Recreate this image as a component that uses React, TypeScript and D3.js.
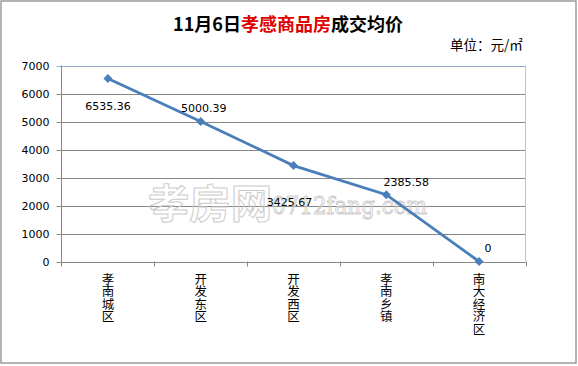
import React from "react";
import * as d3 from "d3";

const categories = ["孝南城区", "开发东区", "开发西区", "孝南乡镇", "南大经济区"];
const values = [6535.36, 5000.39, 3425.67, 2385.58, 0];
const labels = ["6535.36", "5000.39", "3425.67", "2385.58", "0"];
const yTicks = [0, 1000, 2000, 3000, 4000, 5000, 6000, 7000];
const labelOffsets: [number, number][] = [
  [0, 27],
  [3, -13],
  [-4, 36],
  [20, -13],
  [9, -14],
];

const W = 578;
const H = 366;
const LEFT = 61.5;
const RIGHT = 525.5;
const TOP = 65.5;
const BOTTOM = 261.5;
const FONT = "'Noto Sans CJK SC', 'DejaVu Sans', sans-serif";
const NUMFONT = "'DejaVu Sans', 'Liberation Sans', sans-serif";

export default function App() {
  const x = d3.scaleBand<string>().domain(categories).range([LEFT, RIGHT]);
  const y = d3.scaleLinear().domain([0, 7000]).range([BOTTOM, TOP]);
  const cx = (c: string) => (x(c) as number) + x.bandwidth() / 2;
  const line = d3
    .line<number>()
    .x((_, i) => cx(categories[i]))
    .y((d) => y(d));
  const marker = d3.symbol(d3.symbolSquare, 40)() as string;

  return (
    <svg
      width={W}
      height={H}
      style={{ position: "absolute", left: 0, top: 0, background: "#fff" }}
    >
      <rect x={1} y={1} width={575} height={362} fill="#fff" stroke="#8c8c8c" strokeWidth={1.3} />
      <text x={288} y={31} textAnchor="middle" fontFamily={FONT} fontSize={18} fontWeight="bold">
        <tspan fill="#000">11月6日</tspan>
        <tspan fill="#e00000">孝感商品房</tspan>
        <tspan fill="#000">成交均价</tspan>
      </text>
      <text x={450} y={50} fontFamily={FONT} fontSize={13.5} fill="#000">
        单位：元/㎡
      </text>

      {yTicks.map((t) => (
        <g key={t}>
          <line
            x1={LEFT - 5}
            x2={RIGHT}
            y1={Math.round(y(t)) + 0.5}
            y2={Math.round(y(t)) + 0.5}
            stroke={t === 7000 ? "#94acc8" : "#868686"}
            strokeWidth={1}
          />
          <text
            x={LEFT - 12}
            y={y(t) + 4}
            textAnchor="end"
            fontFamily={NUMFONT}
            fontSize={11}
            fill="#000"
          >
            {t}
          </text>
        </g>
      ))}
      <line x1={RIGHT} x2={RIGHT} y1={TOP} y2={BOTTOM} stroke="#b4c6dc" />
      <line x1={LEFT} x2={LEFT} y1={TOP} y2={BOTTOM + 5} stroke="#868686" />
      {categories.map((c, i) => {
        const xe = Math.round((x(c) as number) + x.bandwidth()) + 0.5;
        return <line key={"t" + i} x1={xe} x2={xe} y1={BOTTOM} y2={BOTTOM + 5} stroke="#868686" />;
      })}

      <g fill="none" stroke="#cccccc" strokeWidth={1}>
        <text
          x={148}
          y={218}
          fontFamily={FONT}
          fontSize={40}
          fontWeight="bold"
          textLength={124}
          lengthAdjust="spacingAndGlyphs"
        >
          孝房网
        </text>
        <text
          x={272}
          y={214}
          fontFamily="'DejaVu Serif', 'Liberation Serif', serif"
          fontSize={25}
          fontWeight="normal"
          textLength={155}
          lengthAdjust="spacingAndGlyphs"
        >
          0712fang.com
        </text>
      </g>

      {categories.map((c, i) => (
        <text
          key={c}
          x={cx(c)}
          y={BOTTOM + 10}
          fontFamily={FONT}
          fontSize={12.5}
          fill="#000"
          textAnchor="middle"
        >
          {c.split("").map((ch, j) => (
            <tspan key={j} x={cx(c)} dy={j === 0 ? 12 : 12.6}>
              {ch}
            </tspan>
          ))}
        </text>
      ))}

      <path d={line(values) as string} fill="none" stroke="#4a7ebb" strokeWidth={2.8} />
      {values.map((v, i) => (
        <path
          key={i}
          d={marker}
          transform={`translate(${cx(categories[i])},${y(v)}) rotate(45)`}
          fill="#4a7ebb"
        />
      ))}
      {values.map((v, i) => (
        <text
          key={"l" + i}
          x={cx(categories[i]) + labelOffsets[i][0]}
          y={y(v) + labelOffsets[i][1] + 4}
          textAnchor="middle"
          fontFamily={NUMFONT}
          fontSize={11}
          fill="#000"
        >
          {labels[i]}
        </text>
      ))}
    </svg>
  );
}
